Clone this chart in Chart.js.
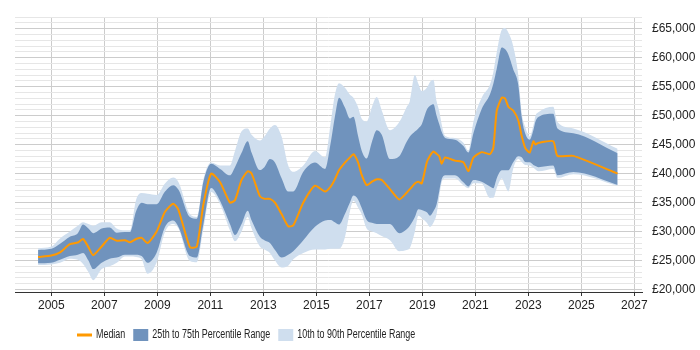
<!DOCTYPE html>
<html>
<head>
<meta charset="utf-8">
<script src="https://cdn.jsdelivr.net/npm/chart.js@4.4.1/dist/chart.umd.min.js"></script>
<style>
  html, body { margin: 0; padding: 0; background: #fff; }
  canvas { display: block; }
</style>
</head>
<body>
<canvas id="salaryChart" width="700" height="350"></canvas>
<script>
// decimal years of the sampled points
const years = [
  2004.5, 2005.0, 2005.33, 2005.7, 2006.0, 2006.2, 2006.4, 2006.58, 2006.9, 2007.2,
  2007.47, 2007.78, 2007.97, 2008.2, 2008.41, 2008.63, 2008.97, 2009.29, 2009.6, 2009.8,
  2010.23, 2010.49, 2010.74, 2011.03, 2011.37, 2011.74, 2011.93, 2012.18, 2012.41, 2012.56,
  2012.87, 2013.04, 2013.25, 2013.44, 2013.69, 2013.94, 2014.13, 2014.51, 2014.95, 2015.33,
  2015.55, 2015.7, 2015.86, 2016.08, 2016.27, 2016.4, 2016.58, 2016.71, 2016.9, 2017.1,
  2017.28, 2017.47, 2017.78, 2018.13, 2018.41, 2018.53, 2018.72, 2018.85, 2018.98, 2019.17,
  2019.29, 2019.42, 2019.54, 2019.64, 2019.73, 2019.86, 2020.23, 2020.55, 2020.74, 2020.93,
  2021.24, 2021.55, 2021.68, 2021.81, 2022.0, 2022.12, 2022.25, 2022.43, 2022.62, 2022.75,
  2022.88, 2023.05, 2023.19, 2023.27, 2023.38, 2023.94, 2024.1, 2024.7, 2026.37
];

const p10 = [
  24200, 24300, 24600, 25300, 25100, 24400, 23000, 21600, 23500, 24000,
  24600, 25700, 25700, 25600, 25200, 22700, 24600, 29950, 31300, 30500,
  24900, 24700, 30500, 36800, 34700, 30200, 28300, 30000, 32500, 30500,
  27400, 26900, 26300, 25000, 23800, 24100, 25200, 26300, 26900, 26900,
  27000, 27000, 27000, 29000, 33500, 35300, 34100, 33000, 30500, 30000,
  29700, 29200, 28500, 26600, 26800, 27150, 30000, 32700, 32300, 31500,
  30780, 31500, 33010, 36000, 38500, 39160, 39160, 38000, 37480, 38320,
  38300, 35800, 35810, 37500, 39160, 38000, 36920, 40840, 42500, 42000,
  41500, 41390, 41000, 40700, 40390, 40800, 39260, 39900, 37900
];

const p25 = [
  24500, 24600, 25100, 25750, 26000, 26300, 25000, 23500, 24600, 25300,
  25500, 26000, 26000, 26000, 25750, 24600, 26300, 30780, 31900, 30780,
  25760, 25500, 31300, 37500, 35250, 31300, 29400, 31300, 33600, 31900,
  29100, 28500, 28000, 26800, 25500, 26000, 26600, 28500, 30800, 31900,
  32000, 31600, 31200, 33000, 35000, 36200, 35500, 34100, 32000, 31500,
  31300, 31300, 31300, 29700, 30400, 31000, 32500, 33850, 33700, 33300,
  32730, 33500, 34690, 37000, 39000, 39710, 39710, 38500, 37760, 38880,
  38590, 37760, 37480, 39200, 40560, 40560, 40560, 41940, 43000, 42800,
  42000, 41940, 41500, 41300, 41110, 41390, 39710, 40270, 38040
];

const median = [
  25600, 25850, 26400, 27800, 28100, 28700, 27300, 25900, 27400, 28900,
  28400, 28500, 28150, 28700, 28900, 28000, 29950, 33400, 34800, 33700,
  27300, 27400, 34700, 40000, 38500, 35000, 35400, 38900, 40400, 40000,
  36100, 35640, 35640, 34970, 33000, 30900, 31050, 35000, 37900, 36900,
  37800, 39000, 40600, 41900, 42800, 43350, 41900, 39800, 38000, 38600,
  39000, 38900, 37300, 35530, 36700, 37300, 38300, 38590, 38320, 41940,
  43060, 43800, 43400, 43000, 41700, 42780, 42230, 41940, 40440, 42780,
  43700, 43350, 44460, 50890, 53110, 52990, 51500, 50890, 49200, 46500,
  44460, 43620, 45580, 45020, 45300, 45580, 43060, 43060, 40000
];

const p75 = [
  26800, 27000, 27900, 29100, 29700, 31200, 30500, 29700, 30500, 30700,
  29800, 29900, 29900, 33500, 34970, 34700, 34700, 36900, 38000, 37200,
  32500, 32200, 38600, 41700, 40800, 39700, 41100, 43600, 45600, 43600,
  40600, 41100, 42500, 41900, 39200, 36900, 36900, 40300, 41900, 40800,
  45500, 49800, 53100, 51400, 49500, 49800, 46400, 44000, 42600, 45500,
  47500, 46700, 42500, 43000, 45500, 46400, 47250, 47800, 48500, 51000,
  51700, 51990, 50000, 48500, 47200, 46140, 45860, 44740, 43620, 47000,
  51160, 53670, 55500, 58140, 61770, 61490, 60500, 58000, 55350, 49760,
  46970, 45860, 47500, 49000, 49760, 50320, 47800, 46970, 43520
];

const p90 = [
  27100, 27400, 28800, 30000, 31000, 31600, 31300, 31000, 31600, 31600,
  30500, 30200, 30200, 35500, 36650, 36500, 36300, 38300, 39300, 38500,
  33000, 32500, 39000, 41900, 41400, 41400, 43900, 47300, 47800, 46700,
  45700, 46400, 47800, 48400, 46400, 41400, 40300, 41400, 43900, 42800,
  49000, 53600, 55600, 54800, 53600, 53100, 51400, 49500, 49000, 51500,
  53200, 50900, 47500, 48900, 51500, 52550, 57000, 55500, 54240, 54800,
  55800, 56190, 52500, 50800, 48500, 46500, 46140, 45300, 43900, 49000,
  53110, 55350, 57500, 60930, 64840, 65120, 64300, 62000, 57020, 50500,
  48090, 46420, 48300, 50000, 50600, 51550, 48900, 47800, 44290
];

const yearTicks = [2005, 2007, 2009, 2011, 2013, 2015, 2017, 2019, 2021, 2023, 2025, 2027];

const ORANGE = "#ff9900";
const DARK_BAND = "#7093bd";
const LIGHT_BAND = "#cfdeee";
const FONT = "'Liberation Sans', Arial, sans-serif";

function toPoints(values) {
  return years.map((x, i) => ({ x, y: values[i] }));
}

const legendItems = [
  { text: "Median", color: ORANGE, line: true },
  { text: "25th to 75th Percentile Range", color: DARK_BAND },
  { text: "10th to 90th Percentile Range", color: LIGHT_BAND }
];

// legend drawn by hand: condensed text, left-of-centre like the original
const bottomLegend = {
  id: "bottomLegend",
  afterDraw(chart) {
    const ctx = chart.ctx;
    let x = 77;
    const y = 335;
    ctx.save();
    ctx.font = "12.5px " + FONT;
    ctx.textBaseline = "middle";
    const squeeze = 118 / ctx.measureText(legendItems[1].text).width;
    legendItems.forEach(item => {
      ctx.fillStyle = item.color;
      if (item.line) {
        ctx.fillRect(x, y - 1.5, 15, 3);
      } else {
        ctx.fillRect(x, y - 6, 15, 12);
      }
      x += 19;
      ctx.fillStyle = "#222";
      ctx.save();
      ctx.translate(x, y);
      ctx.scale(squeeze, 1);
      ctx.fillText(item.text, 0, 0);
      ctx.restore();
      x += ctx.measureText(item.text).width * squeeze + 8;
    });
    ctx.restore();
  }
};

new Chart(document.getElementById("salaryChart"), {
  type: "line",
  data: {
    datasets: [
      {
        label: "Median",
        data: toPoints(median),
        borderColor: ORANGE,
        borderWidth: 2,
        fill: false,
        tension: 0.2
      },
      {
        label: "75th",
        data: toPoints(p75),
        borderColor: "transparent",
        borderWidth: 0,
        backgroundColor: DARK_BAND,
        fill: "+1",
        cubicInterpolationMode: "monotone"
      },
      {
        label: "25th",
        data: toPoints(p25),
        borderColor: "transparent",
        borderWidth: 0,
        fill: false,
        cubicInterpolationMode: "monotone"
      },
      {
        label: "90th",
        data: toPoints(p90),
        borderColor: "transparent",
        borderWidth: 0,
        backgroundColor: LIGHT_BAND,
        fill: "+1",
        cubicInterpolationMode: "monotone"
      },
      {
        label: "10th",
        data: toPoints(p10),
        borderColor: "transparent",
        borderWidth: 0,
        fill: false,
        cubicInterpolationMode: "monotone"
      }
    ]
  },
  options: {
    responsive: false,
    animation: false,
    layout: { padding: { left: 15, top: 8, right: 0, bottom: 30 } },
    elements: { point: { radius: 0, hoverRadius: 0 } },
    plugins: {
      legend: { display: false },
      tooltip: { enabled: false }
    },
    scales: {
      x: {
        type: "linear",
        min: 2003.63,
        max: 2027.29,
        afterBuildTicks: scale => { scale.ticks = yearTicks.map(value => ({ value })); },
        afterFit: scale => { scale.height = 28; },
        ticks: {
          autoSkip: false,
          maxRotation: 0,
          padding: 2,
          color: "#222",
          font: { family: FONT, size: 12 },
          callback: value => String(value)
        },
        grid: { color: "#cccccc", tickColor: "#333", tickLength: 4 },
        border: { color: "#333", width: 1 }
      },
      y: {
        position: "right",
        min: 19550,
        max: 67000,
        afterBuildTicks: scale => {
          const ticks = [];
          for (let v = 20000; v <= 67000; v += 1000) ticks.push({ value: v });
          scale.ticks = ticks;
        },
        afterFit: scale => { scale.width = 58; },
        ticks: {
          autoSkip: false,
          padding: 10,
          color: "#222",
          font: { family: FONT, size: 12 },
          callback: value => value % 5000 === 0 ? "£" + value.toLocaleString("en-GB") : ""
        },
        grid: {
          drawTicks: false,
          color: ctx => ctx.tick && ctx.tick.value % 5000 === 0 ? "#cccccc" : "#e6e6e6"
        },
        border: { display: false }
      }
    }
  },
  plugins: [bottomLegend]
});
</script>
</body>
</html>
